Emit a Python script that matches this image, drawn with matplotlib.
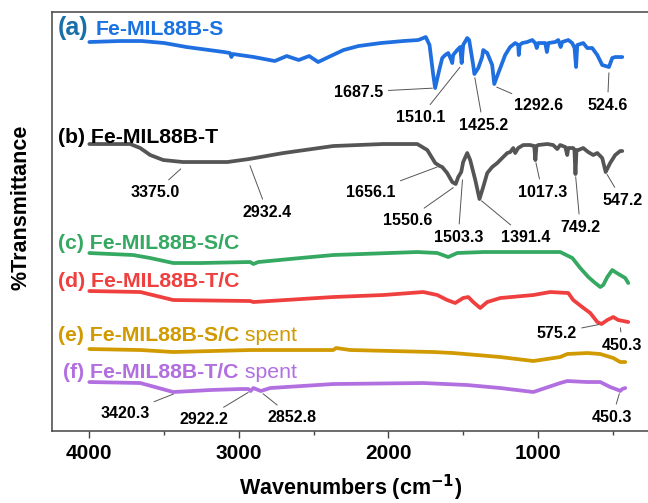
import matplotlib.pyplot as plt

plt.rcParams['font.family'] = ['Liberation Sans', 'DejaVu Sans']

# ===== spectra (wavenumber cm-1, stacked transmittance a.u.) =====
wn_a = [4000, 3800, 3650, 3500, 3350, 3200, 3100, 3060, 3050, 3040, 2900, 2760, 2680, 2600,
        2530, 2470, 2400, 2300, 2200, 2050, 1900, 1800, 1750, 1725, 1700, 1687.5, 1660, 1640,
        1620, 1600, 1580, 1573, 1567, 1540, 1520, 1510, 1500, 1473, 1460, 1433, 1425, 1399,
        1373, 1366, 1339, 1306, 1292, 1270, 1252, 1219, 1186, 1152, 1132, 1128, 1122, 1105,
        1072, 1038, 1018, 1008, 998, 951, 940, 930, 884, 864, 848, 838, 797, 771, 755, 745,
        737, 697, 670, 637, 603, 570, 525, 503, 483, 450, 436]
t_a = [389, 390, 390, 388, 384, 381, 379, 378, 374, 377, 374, 370, 375, 371,
       375, 369, 374, 381, 385, 388, 390, 391, 394, 386, 356, 343, 361, 373,
       376, 378, 371, 368, 376, 381, 384, 368, 386, 393, 391, 366, 357, 363,
       374, 381, 378, 366, 347, 356, 363, 376, 384, 388, 386, 376, 386, 388,
       389, 391, 388, 383, 388, 388, 379, 388, 389, 391, 384, 389, 391, 388, 383, 364,
       386, 388, 383, 383, 376, 366, 364, 373, 374, 374, 374]

wn_b = [4000, 3727, 3660, 3593, 3506, 3375, 3077, 2932, 2702, 2369, 2035, 1807, 1740, 1687,
        1656, 1640, 1607, 1573, 1550, 1533, 1513, 1500, 1473, 1453, 1419, 1391, 1366, 1339,
        1306, 1272, 1239, 1205, 1185, 1165, 1152, 1132, 1098, 1052, 1025, 1017, 1010, 998,
        938, 898, 871, 851, 817, 804, 797, 764, 756, 749, 742, 730, 697, 664, 630, 603, 570,
        547, 517, 483, 450, 436]
t_b = [287, 287, 283, 276, 271, 269, 269, 272, 278, 285, 287, 287, 281, 268,
       265, 264, 258, 249, 247, 254, 259, 269, 278, 271, 251, 232, 244, 258,
       264, 268, 273, 278, 279, 283, 278, 283, 286, 286, 285, 271, 285, 286,
       287, 286, 282, 286, 284, 276, 283, 283, 281, 257, 281, 281, 283, 279, 276, 278, 273,
       259, 268, 276, 280, 280]

wn_c = [4000, 3707, 3593, 3439, 3258, 2924, 2903, 2870, 2589, 2369, 1807, 1673, 1600, 1540,
        1366, 1139, 851, 770, 717, 663, 617, 583, 563, 536, 503, 483, 450, 416, 396]
t_c = [178, 176, 173, 168, 168, 169, 167, 169, 173, 176, 179, 178, 174, 178,
       179, 179, 179, 173, 163, 154, 148, 144, 146, 154, 161, 159, 156, 153, 148]

wn_d = [4000, 3659, 3439, 2924, 2903, 2369, 2035, 1767, 1673, 1607, 1553, 1500, 1466, 1433,
        1386, 1339, 1252, 1031, 918, 797, 764, 704, 650, 603, 575, 536, 496, 463, 429, 396]
t_d = [140, 139, 131, 130, 129, 134, 136, 139, 136, 131, 128, 133, 134, 129,
       123, 129, 133, 136, 139, 138, 131, 124, 118, 109, 107, 111, 114, 111, 110, 109]

wn_e = [4000, 3659, 3439, 2924, 2589, 2369, 2350, 2254, 1700, 1567, 1252, 1031, 851, 804,
        670, 583, 496, 450, 416]
t_e = [82, 81, 79, 81, 81, 81, 83, 81, 79, 78, 74, 70, 74, 77,
       78, 77, 73, 69, 69]

wn_f = [4000, 3659, 3439, 3191, 2990, 2937, 2922, 2903, 2853, 2790, 2369, 1767, 1473, 1252,
        1031, 851, 804, 670, 583, 517, 463, 450, 436, 416]
t_f = [49, 48, 39, 41, 42, 42, 40, 43, 40, 43, 47, 48, 46, 43,
       39, 48, 50, 49, 49, 44, 41, 40, 42, 43]

# ===== styles =====
c_a = '#1f6fe0'
c_b = '#555555'
c_c = '#35a862'
c_d = '#ef3f3f'
c_e = '#d09a00'
c_f = '#b16fe0'

fig = plt.figure(figsize=(6.48, 5.03), dpi=100)
ax = fig.add_axes([0.0802, 0.1431, 0.923, 0.833])

lw = 2.7
for wn, t, c in [(wn_a, t_a, c_a), (wn_b, t_b, c_b), (wn_c, t_c, c_c),
                 (wn_d, t_d, c_d), (wn_e, t_e, c_e), (wn_f, t_f, c_f)]:
    ax.plot(wn, t, color=c, lw=lw, solid_joinstyle='round', solid_capstyle='round')

ax.set_xlim(4250, 250)
ax.set_ylim(0, 419)
ax.set_xticks([4000, 3000, 2000, 1000])
ax.set_xticks([3500, 2500, 1500, 500], minor=True)
ax.set_yticks([])
ax.tick_params(axis='x', which='major', length=5, width=1, color='#444444',
               labelsize=15, pad=4)
ax.tick_params(axis='x', which='minor', length=3, width=1, color='#444444')
for lab in ax.get_xticklabels():
    lab.set_fontweight('bold')
for s in ['left', 'top', 'bottom']:
    ax.spines[s].set_color('#444444')
    ax.spines[s].set_linewidth(1.1)
ax.spines['right'].set_visible(False)

ax.set_xlabel('Wavenumbers (cm$^{\\mathbf{-1}}$)', fontsize=15.5, fontweight='bold')
ax.set_ylabel('%Transmittance', fontsize=15.5, fontweight='bold')
ax.xaxis.set_label_coords(0.5, -0.100)
ax.yaxis.set_label_coords(-0.035, 0.535)

# ===== peak labels =====
peaks = [
    (1687.5, 343, 2202, 339), (1510.1, 366, 1787, 314), (1425.2, 356, 1366, 306),
    (1292.6, 345, 998, 326), (524.6, 361, 535, 326),
    (3375.0, 264, 3559, 239), (2932.4, 268, 2809, 219), (1656.1, 265, 2121, 239),
    (1550.6, 245, 1874, 211), (1503.3, 254, 1533, 194), (1391.4, 232, 1085, 194),
    (1017.3, 271, 971, 239), (749.2, 257, 717, 204), (547.2, 259, 436, 231),
    (575.2, 107, 878, 98), (450.3, 106, 436, 86),
    (3420.3, 38, 3759, 18), (2922.2, 40, 3232, 12), (2852.8, 39, 2643, 14),
    (450.3, 40, 502, 14),
]
for px, py, tx, ty in peaks:
    ax.annotate(f'{px:.1f}', xy=(px, py), xytext=(tx, ty), fontsize=11.5, fontweight='bold',
                ha='center', va='center',
                arrowprops=dict(arrowstyle='-', color='#555555', lw=0.7, shrinkA=2, shrinkB=2))

# ===== trace names =====
fs = 15.3
ta = ax.text(4209, 403, '(a)', color='#1a6fa8', fontsize=18, fontweight='bold', va='center')
ax.annotate('Fe-MIL88B-S', xy=(1, 0.45), xycoords=ta, xytext=(5, 0), textcoords='offset points',
            color='#1a73e0', fontsize=fs, fontweight='bold', va='center')
ax.text(4209, 294, '(b) Fe-MIL88B-T', color='black', fontsize=fs, fontweight='bold', va='center')
ax.text(4209, 188, '(c) Fe-MIL88B-S/C', color=c_c, fontsize=fs, fontweight='bold', va='center')
ax.text(4209, 150, '(d) Fe-MIL88B-T/C', color=c_d, fontsize=fs, fontweight='bold', va='center')
te = ax.text(4209, 96, '(e) Fe-MIL88B-S/C', color=c_e, fontsize=fs, fontweight='bold', va='center')
ax.annotate(' spent', xy=(1, 0.5), xycoords=te, color=c_e, fontsize=fs, va='center')
tf = ax.text(4175, 59, '(f) Fe-MIL88B-T/C', color=c_f, fontsize=fs, fontweight='bold', va='center')
ax.annotate(' spent', xy=(1, 0.5), xycoords=tf, color=c_f, fontsize=fs, va='center')

plt.savefig('out.png', dpi=100)
